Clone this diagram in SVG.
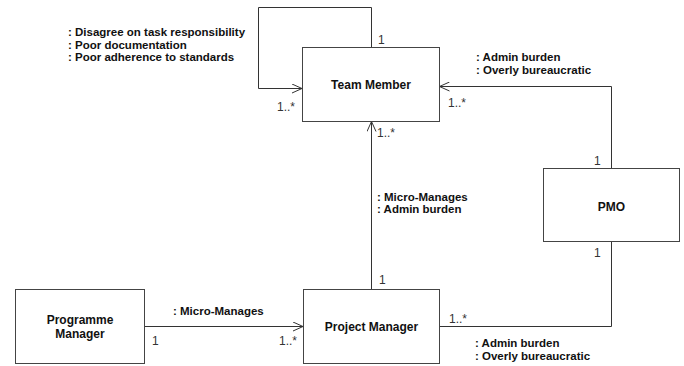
<svg xmlns="http://www.w3.org/2000/svg" width="684" height="366" viewBox="0 0 684 366">
<style>
.box{fill:#fff;stroke:#444;stroke-width:1}
.conn{fill:none;stroke:#333;stroke-width:1}
.name{font-family:"Liberation Sans",Arial,sans-serif;font-weight:bold;font-size:12px;fill:#111;text-anchor:middle}
.lbl{font-family:"Liberation Sans",Arial,sans-serif;font-weight:bold;font-size:11.5px;fill:#111}
.mult{font-family:"Liberation Sans",Arial,sans-serif;font-size:12px;fill:#333}
</style>
<defs>
<marker id="open" viewBox="0 0 10 10" refX="10" refY="5" markerWidth="10" markerHeight="10" markerUnits="userSpaceOnUse" orient="auto">
<path d="M0,0.5 L10,5 L0,9.5" fill="none" stroke="#333" stroke-width="1"/>
</marker>
</defs>
<rect width="684" height="366" fill="#fff"/>
<g id="connectors">
<path class="conn" d="M371.5,47 V7.5 H258.5 V88.5 H302" marker-end="url(#open)"/>
<path class="conn" d="M611.5,168 V86.5 H439.5" marker-end="url(#open)"/>
<path class="conn" d="M371.5,289 V121.5" marker-end="url(#open)"/>
<path class="conn" d="M144,326.5 H303" marker-end="url(#open)"/>
<path class="conn" d="M611.5,242 V326.5 H439.5"/>
</g>
<g id="team-member">
<rect class="box" x="302.5" y="47.5" width="137" height="74"/>
<text class="name" x="371" y="89">Team Member</text>
</g>
<g id="pmo">
<rect class="box" x="543.5" y="168.5" width="136" height="73"/>
<text class="name" x="611.5" y="211">PMO</text>
</g>
<g id="programme-manager">
<rect class="box" x="15.5" y="289.5" width="129" height="74"/>
<text class="name" x="80" y="324">Programme</text>
<text class="name" x="80" y="338">Manager</text>
</g>
<g id="project-manager">
<rect class="box" x="303.5" y="289.5" width="136" height="74"/>
<text class="name" x="371.5" y="331">Project Manager</text>
</g>
<g id="labels">
<text class="lbl" x="68" y="36">: Disagree on task responsibility</text>
<text class="lbl" x="68" y="48.5">: Poor documentation</text>
<text class="lbl" x="68" y="61">: Poor adherence to standards</text>
<text class="lbl" x="476" y="61">: Admin burden</text>
<text class="lbl" x="476" y="74">: Overly bureaucratic</text>
<text class="lbl" x="377" y="200.5">: Micro-Manages</text>
<text class="lbl" x="377" y="213">: Admin burden</text>
<text class="lbl" x="173" y="315">: Micro-Manages</text>
<text class="lbl" x="475" y="347">: Admin burden</text>
<text class="lbl" x="475" y="360">: Overly bureaucratic</text>
<text class="mult" x="378" y="44">1</text>
<text class="mult" x="277" y="111">1..*</text>
<text class="mult" x="448" y="107">1..*</text>
<text class="mult" x="377" y="137">1..*</text>
<text class="mult" x="594" y="165">1</text>
<text class="mult" x="594" y="257">1</text>
<text class="mult" x="379" y="284">1</text>
<text class="mult" x="152" y="345">1</text>
<text class="mult" x="279" y="345">1..*</text>
<text class="mult" x="449" y="323">1..*</text>
</g>
</svg>
